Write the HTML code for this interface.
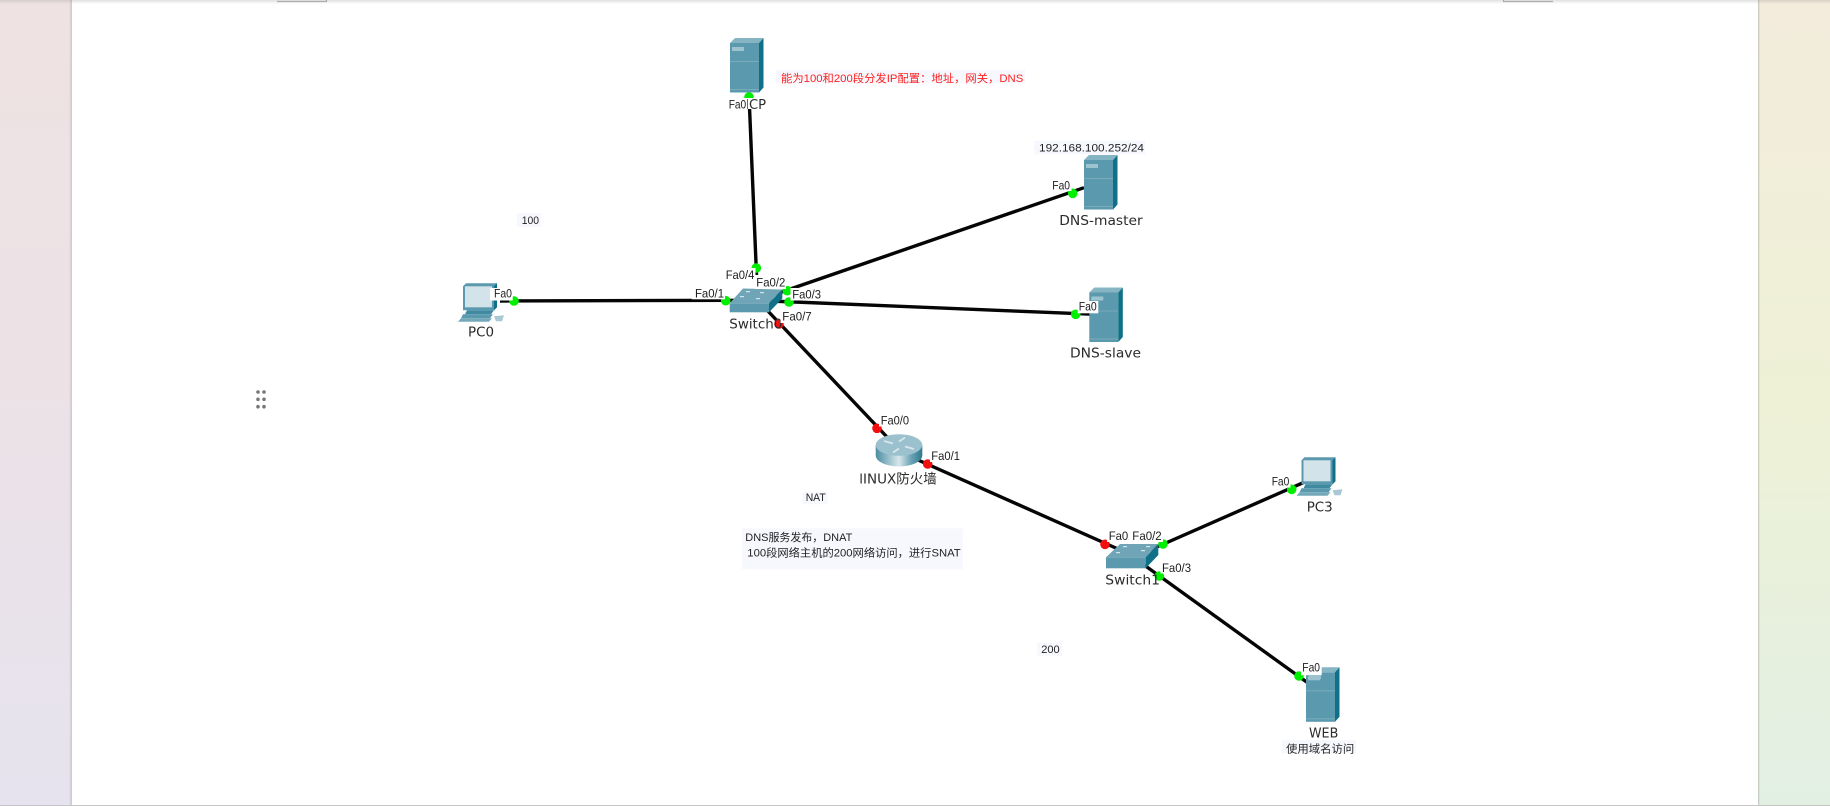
<!DOCTYPE html>
<html lang="zh">
<head>
<meta charset="utf-8">
<title>Network topology</title>
<style>
html,body{margin:0;padding:0;width:1830px;height:806px;overflow:hidden;background:#fff}
#bgL{position:absolute;left:0;top:0;width:72px;height:806px;background:linear-gradient(180deg,#eee2e2 0%,#ece2e6 45%,#e6e3ee 100%)}
#bgR{position:absolute;left:1758px;top:0;width:72px;height:806px;background:linear-gradient(180deg,#f3ebdc 0%,#eef1d6 50%,#e2f0e4 100%)}
#edgeL{position:absolute;left:69px;top:0;width:3px;height:806px;background:linear-gradient(90deg,rgba(150,140,150,0),rgba(150,140,150,.35))}
#edgeR{position:absolute;left:1758px;top:0;width:2px;height:806px;background:linear-gradient(90deg,rgba(140,140,135,.45),rgba(140,140,135,0))}
#topS{position:absolute;left:0;top:0;width:1830px;height:4px;background:linear-gradient(180deg,rgba(120,120,120,.22),rgba(120,120,120,0))}
#botS{position:absolute;left:0;top:805px;width:1830px;height:1px;background:#c6c6c6}
svg{position:absolute;left:0;top:0;filter:blur(.3px)}
.l{font:12.2px "Liberation Sans","Noto Sans CJK SC",sans-serif;fill:#1c1c1c}
.n{font:13.5px "DejaVu Sans","Noto Sans CJK SC",sans-serif;fill:#2b2b2b}
.c{font:11px "Liberation Sans","Noto Sans CJK SC",sans-serif;fill:#222}
</style>
</head>
<body>
<div id="bgL"></div><div id="bgR"></div><div id="edgeL"></div><div id="edgeR"></div>
<svg width="1830" height="806" viewBox="0 0 1830 806" xmlns="http://www.w3.org/2000/svg">
<defs>
<linearGradient id="rt" x1="0" x2="1" y1="0" y2="0">
<stop offset="0" stop-color="#4a8da1"/><stop offset=".5" stop-color="#d8e7ec"/><stop offset=".75" stop-color="#6ea5b6"/><stop offset="1" stop-color="#2f7a90"/>
</linearGradient>
<g id="srv">
<rect x="0" y="5" width="29" height="49.5" fill="#5b9aae"/>
<polygon points="0,5 5,0 33.5,0 29,5" fill="#85b5c3"/>
<polygon points="29,5 33.5,0 33.5,49.5 29,54.5" fill="#0f7088"/>
<rect x="2" y="9" width="12" height="4" fill="#9cc3cf"/>
<rect x="0" y="23" width="29" height="1" fill="#7aabb9"/>
<rect x="0" y="51" width="29" height="1" fill="#7aabb9"/>
</g>
<g id="pc">
<polygon points="5,3 8,0 39,0 39,24 36,27 5,27" fill="#5b9aae"/>
<polygon points="36,3 39,0 39,24 36,27" fill="#0f7088"/>
<rect x="7" y="3" width="27" height="21" fill="#d3e3ea"/>
<polygon points="9,27 36,27 33,31 7,31" fill="#3f8aa0"/>
<polygon points="5,31 35,31 32,35 3,35" fill="#5b9aae"/>
<polygon points="3,35 34,35 31,38.5 0,38.5" fill="#74a9ba"/>
<path d="M36,33 L46,32 L44,38 L38,38 Z" fill="#a8c8d3"/>
</g>
</defs>

<!-- top rulers -->
<path d="M277,1.5H326.5V0M1503.5,0V1.5H1553" fill="none" stroke="#b5b5b5" stroke-width="1.2"/>

<!-- grip -->
<g fill="#777">
<circle cx="258" cy="392" r="1.8"/><circle cx="264" cy="392" r="1.8"/>
<circle cx="258" cy="399.3" r="1.8"/><circle cx="264" cy="399.3" r="1.8"/>
<circle cx="258" cy="406.7" r="1.8"/><circle cx="264" cy="406.7" r="1.8"/>
</g>

<!-- links -->
<g stroke="#050505" stroke-width="3.4" fill="none">
<line x1="749" y1="95" x2="756.5" y2="275"/>
<line x1="500" y1="301" x2="735" y2="300.3"/>
<line x1="770" y1="296" x2="1084" y2="187.7"/>
<line x1="770" y1="301" x2="1092" y2="314.2"/>
<line x1="766" y1="309" x2="887" y2="437"/>
<line x1="918" y1="460" x2="1118" y2="549"/>
<line x1="1150" y1="550" x2="1304" y2="482.3"/>
<line x1="1140" y1="562" x2="1307" y2="682.3"/>
</g>

<!-- devices -->
<use href="#srv" x="730" y="38"/>
<use href="#srv" x="1084" y="155"/>
<use href="#srv" x="1089.3" y="287.5"/>
<use href="#srv" x="1306" y="667.3"/>
<use href="#pc" x="458" y="283.3"/>
<use href="#pc" x="1296.5" y="457.3"/>

<!-- switch0 -->
<polygon points="729.7,303.3 743,288.5 782.3,289.5 769,303.3" fill="#6fa5b6"/>
<rect x="729.7" y="303.3" width="39.3" height="9" fill="#5b9aae"/>
<polygon points="769,303.3 782.3,289.5 782.3,298.5 769,312.3" fill="#0f7088"/>
<g fill="#d5e5ea"><rect x="746" y="291" width="4" height="1.2"/><rect x="760" y="292" width="4" height="1.2"/><rect x="740" y="296" width="4" height="1.2"/><rect x="756" y="298" width="4" height="1.2"/></g>

<!-- switch1 -->
<polygon points="1106,557.3 1120,544 1158.3,544 1145.7,557.3" fill="#6fa5b6"/>
<rect x="1106" y="557.3" width="39.7" height="11" fill="#5b9aae"/>
<polygon points="1145.7,557.3 1158.3,544 1158.3,555 1145.7,568.3" fill="#0f7088"/>
<g fill="#d5e5ea"><rect x="1123" y="546" width="4" height="1.2"/><rect x="1146" y="546" width="4" height="1.2"/><rect x="1116" y="552" width="4" height="1.2"/><rect x="1141" y="550" width="4" height="1.2"/></g>

<!-- router -->
<path d="M875.7,445 V455.5 A23.3,11 0 0 0 922.3,455.5 V445 Z" fill="url(#rt)"/>
<ellipse cx="899" cy="445" rx="23.3" ry="10.8" fill="#9cc1ce"/>
<g stroke="#d8e7ec" stroke-width="1.8" fill="none">
<path d="M884,441 L893,443.5M914,449 L905,446.5M905,437.5 L899,441.5M893,452.5 L899,448.5"/>
</g>

<!-- link lights -->
<g fill="#00ee00">
<circle cx="749" cy="97" r="4.8"/>
<circle cx="756.3" cy="268" r="4.8"/>
<circle cx="514" cy="301" r="4.8"/>
<circle cx="725.7" cy="300.7" r="4.8"/>
<circle cx="787.3" cy="290.7" r="4.8"/>
<circle cx="789" cy="302" r="4.8"/>
<circle cx="1072.7" cy="193.3" r="4.8"/>
<circle cx="1075.7" cy="314.3" r="4.8"/>
<circle cx="1163" cy="544" r="4.8"/>
<circle cx="1291.7" cy="489.3" r="4.8"/>
<circle cx="1159.3" cy="576" r="4.8"/>
<circle cx="1299" cy="676" r="4.8"/>
</g>
<g fill="#f01010">
<circle cx="779" cy="324" r="4.8"/>
<circle cx="877" cy="428.3" r="4.8"/>
<circle cx="927.7" cy="464" r="4.8"/>
<circle cx="1105" cy="544.3" r="4.8"/>
</g>

<!-- note backgrounds -->
<g fill="#f7f8fe">
<rect x="516.7" y="213" width="24" height="14"/>
<rect x="776" y="70" width="249" height="13.3"/>
<rect x="1034.3" y="140.7" width="110.7" height="13.6"/>
<rect x="802.3" y="491.7" width="25.4" height="12.6"/>
<rect x="742.3" y="528.3" width="220.4" height="41"/>
<rect x="1037.3" y="642.7" width="24.4" height="13"/>
<rect x="1281.7" y="740" width="74.3" height="13.3"/>
</g>

<!-- device names -->
<rect x="728" y="98" width="39" height="11" fill="#fff"/>
<text class="n" x="729" y="109" textLength="37" lengthAdjust="spacingAndGlyphs">DHCP</text>
<text class="n" x="468" y="336.7" textLength="26" lengthAdjust="spacingAndGlyphs">PC0</text>
<text class="n" x="729.3" y="328.3" textLength="53" lengthAdjust="spacingAndGlyphs">Switch0</text>
<text class="n" x="1059.3" y="225" textLength="83.4" lengthAdjust="spacingAndGlyphs">DNS-master</text>
<text class="n" x="1070" y="357.7" textLength="71" lengthAdjust="spacingAndGlyphs">DNS-slave</text>
<text class="n" x="859.3" y="483.3" textLength="77.4" lengthAdjust="spacingAndGlyphs">lINUX防火墙</text>
<text class="n" x="1105.3" y="584.3" textLength="54.7" lengthAdjust="spacingAndGlyphs">Switch1</text>
<text class="n" x="1306.7" y="511.7" textLength="26" lengthAdjust="spacingAndGlyphs">PC3</text>
<text class="n" x="1309" y="737.3" textLength="29.3" lengthAdjust="spacingAndGlyphs">WEB</text>

<!-- port label boxes -->
<g fill="#fff">
<rect x="727.5" y="98" width="19.5" height="12"/>
<rect x="490" y="288" width="22.7" height="12.5"/>
<rect x="691.7" y="287.3" width="33.3" height="12"/>
<rect x="723.5" y="268" width="32" height="13"/>
<rect x="755" y="276" width="31" height="13"/>
<rect x="790.5" y="288" width="32" height="12.5"/>
<rect x="780.5" y="310" width="33" height="13"/>
<rect x="1050.5" y="179" width="21" height="12"/>
<rect x="1077.7" y="301" width="20.6" height="12.3"/>
<rect x="879" y="414" width="32" height="12.5"/>
<rect x="930" y="450" width="32" height="12"/>
<rect x="1107" y="530" width="21" height="12"/>
<rect x="1128" y="530" width="35" height="12"/>
<rect x="1160.5" y="561.5" width="32" height="12"/>
<rect x="1270" y="475.5" width="20.5" height="12"/>
<rect x="1301" y="662.7" width="20.7" height="12.5"/>
</g>
<rect x="1309" y="675" width="12" height="4" fill="#9cc3cf"/>

<!-- port labels -->
<text class="l" x="728.7" y="108.3" textLength="17.5" lengthAdjust="spacingAndGlyphs">Fa0</text>
<text class="l" x="494" y="297.5" textLength="18" lengthAdjust="spacingAndGlyphs">Fa0</text>
<text class="l" x="695" y="297.7" textLength="29" lengthAdjust="spacingAndGlyphs">Fa0/1</text>
<text class="l" x="725.7" y="279" textLength="28.6" lengthAdjust="spacingAndGlyphs">Fa0/4</text>
<text class="l" x="756.3" y="286.7" textLength="29" lengthAdjust="spacingAndGlyphs">Fa0/2</text>
<text class="l" x="792.3" y="298.3" textLength="28.7" lengthAdjust="spacingAndGlyphs">Fa0/3</text>
<text class="l" x="782.3" y="320.3" textLength="29.4" lengthAdjust="spacingAndGlyphs">Fa0/7</text>
<text class="l" x="1052.3" y="189.3" textLength="17.7" lengthAdjust="spacingAndGlyphs">Fa0</text>
<text class="l" x="1078.7" y="310.7" textLength="18" lengthAdjust="spacingAndGlyphs">Fa0</text>
<text class="l" x="880.7" y="424.3" textLength="28.3" lengthAdjust="spacingAndGlyphs">Fa0/0</text>
<text class="l" x="931.3" y="460" textLength="28.7" lengthAdjust="spacingAndGlyphs">Fa0/1</text>
<text class="l" x="1108.7" y="540" textLength="29" lengthAdjust="spacingAndGlyphs">Fa0/1</text>
<rect x="1128.5" y="530" width="34" height="12" fill="#fff"/>
<text class="l" x="1132.3" y="540" textLength="29.4" lengthAdjust="spacingAndGlyphs">Fa0/2</text>
<text class="l" x="1162" y="572" textLength="29" lengthAdjust="spacingAndGlyphs">Fa0/3</text>
<text class="l" x="1271.7" y="485.3" textLength="17.6" lengthAdjust="spacingAndGlyphs">Fa0</text>
<text class="l" x="1302.3" y="671.7" textLength="17.7" lengthAdjust="spacingAndGlyphs">Fa0</text>

<!-- notes -->
<text class="c" x="521.7" y="224" textLength="17.3" lengthAdjust="spacingAndGlyphs">100</text>
<text class="c" x="781" y="82" textLength="242.3" lengthAdjust="spacingAndGlyphs" style="fill:#ff2020">能为100和200段分发IP配置：地址，网关，DNS</text>
<text class="c" x="1039" y="151.7" textLength="105" lengthAdjust="spacingAndGlyphs">192.168.100.252/24</text>
<text class="c" x="805.7" y="501" textLength="20" lengthAdjust="spacingAndGlyphs">NAT</text>
<text class="c" x="745.3" y="541" textLength="107" lengthAdjust="spacingAndGlyphs">DNS服务发布，DNAT</text>
<text class="c" x="747.3" y="556.7" textLength="213.4" lengthAdjust="spacingAndGlyphs">100段网络主机的200网络访问，进行SNAT</text>
<text class="c" x="1041.3" y="653" textLength="18.4" lengthAdjust="spacingAndGlyphs">200</text>
<text class="c" x="1286" y="752.3" textLength="68.3" lengthAdjust="spacingAndGlyphs">使用域名访问</text>
</svg>
<div id="topS"></div><div id="botS"></div>
</body>
</html>
